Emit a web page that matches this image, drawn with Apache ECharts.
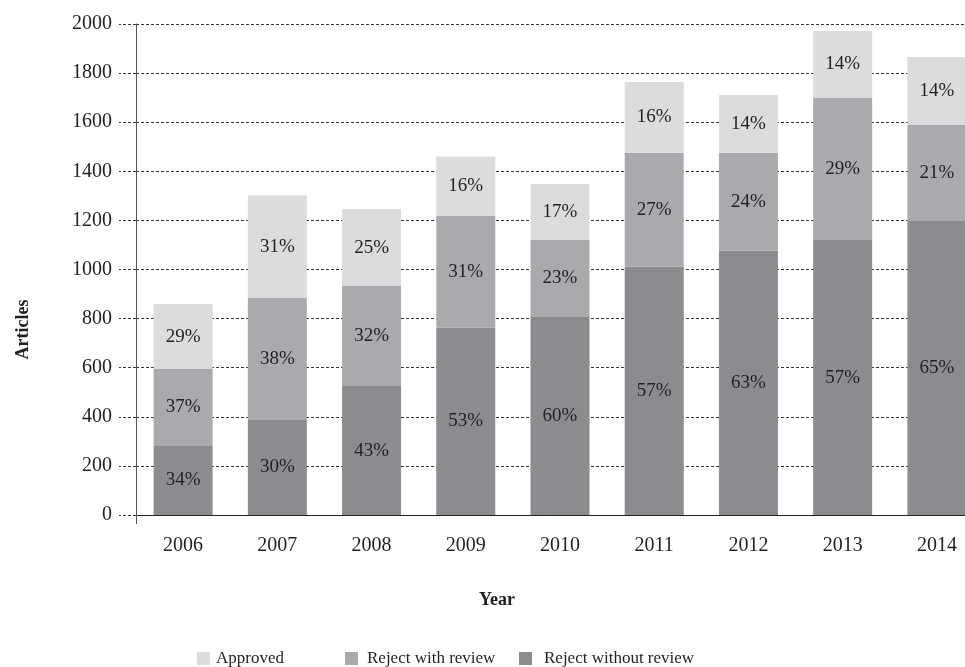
<!DOCTYPE html>
<html>
<head>
<meta charset="utf-8">
<script src="https://cdn.jsdelivr.net/npm/echarts@6/dist/echarts.min.js"></script>
<style>html,body{margin:0;padding:0;background:#fff;}#chart{width:965px;height:667px;}</style>
</head>
<body>
<div id="chart"></div>
<script>
var years = ['2006','2007','2008','2009','2010','2011','2012','2013','2014'];
var rejectWithout = [281, 387, 525, 763, 807, 1012, 1077, 1120, 1198];
var rejectWith    = [314, 498, 408, 455, 313, 464, 399, 579, 391];
var approved      = [264, 416, 313, 242, 228, 288, 235, 272, 277];
var pctWithout  = [34, 30, 43, 53, 60, 57, 63, 57, 65];
var pctWith     = [37, 38, 32, 31, 23, 27, 24, 29, 21];
var pctApproved = [29, 31, 25, 16, 17, 16, 14, 14, 14];
var yTicks = [0, 200, 400, 600, 800, 1000, 1200, 1400, 1600, 1800, 2000];

var FONT = "'Liberation Serif', 'DejaVu Serif', serif";
var TEXT = '#231f20';
var C_APP = '#dcdcde', C_WITH = '#a9aaad', C_WO = '#8b8c90';

function mkLabel(arr) {
  return {
    show: true, position: 'inside', color: TEXT,
    fontFamily: FONT, fontSize: 19,
    formatter: function (p) { return arr[p.dataIndex] + '%'; }
  };
}
function mkLegend(name, left, pad) {
  return {
    data: [name], left: left, top: 650, orient: 'horizontal', padding: 0,
    itemWidth: 13, itemHeight: 13, itemGap: 0, icon: 'rect',
    textStyle: { fontFamily: FONT, fontSize: 17, color: TEXT, padding: [0, 0, 0, pad] },
    selectedMode: false
  };
}

var chart = echarts.init(document.getElementById('chart'), null, { renderer: 'canvas' });
chart.setOption({
  animation: false,
  backgroundColor: '#fff',
  textStyle: { fontFamily: FONT },
  grid: { left: 136, width: 848, top: 24, height: 491, containLabel: false, outerBoundsMode: 'none' },
  legend: [
    mkLegend('Approved', 197, 1),
    mkLegend('Reject with review', 345, 4),
    mkLegend('Reject without review', 519, 7)
  ],
  xAxis: {
    type: 'category', data: years, boundaryGap: true,
    name: 'Year', nameLocation: 'middle', nameGap: 76,
    nameTextStyle: { fontFamily: FONT, fontSize: 18, fontWeight: 'bold', color: TEXT, padding: [0, 126, 0, 0] },
    axisLine: { show: true, lineStyle: { color: '#222', width: 1 } },
    axisTick: { show: true, length: 9, interval: function (i) { return i === 0; }, lineStyle: { color: '#555' } },
    axisLabel: { fontFamily: FONT, fontSize: 20, color: TEXT, margin: 21 },
    splitLine: { show: false }
  },
  yAxis: {
    type: 'value', min: 0, max: 2000, interval: 200,
    name: 'Articles', nameLocation: 'middle', nameGap: 104, nameRotate: 90,
    nameTextStyle: { fontFamily: FONT, fontSize: 18, fontWeight: 'bold', color: TEXT, padding: [0, 120, 0, 0] },
    axisLine: { show: true, lineStyle: { color: '#555', width: 1 } },
    axisTick: { show: true, inside: false, length: 17, lineStyle: { color: '#333', type: [3, 2] } },
    axisLabel: {
      fontFamily: FONT, fontSize: 20, color: TEXT, margin: 24,
      formatter: function (v) { return yTicks.indexOf(v) >= 0 ? String(v) : ''; }
    },
    splitLine: { show: true, lineStyle: { color: '#333', type: [3, 2], width: 1 } }
  },
  series: [
    { name: 'Reject without review', type: 'bar', stack: 'a', barWidth: 59,
      data: rejectWithout, itemStyle: { color: C_WO }, label: mkLabel(pctWithout) },
    { name: 'Reject with review', type: 'bar', stack: 'a', barWidth: 59,
      data: rejectWith, itemStyle: { color: C_WITH }, label: mkLabel(pctWith) },
    { name: 'Approved', type: 'bar', stack: 'a', barWidth: 59,
      data: approved, itemStyle: { color: C_APP }, label: mkLabel(pctApproved) }
  ]
});
</script>
</body>
</html>
